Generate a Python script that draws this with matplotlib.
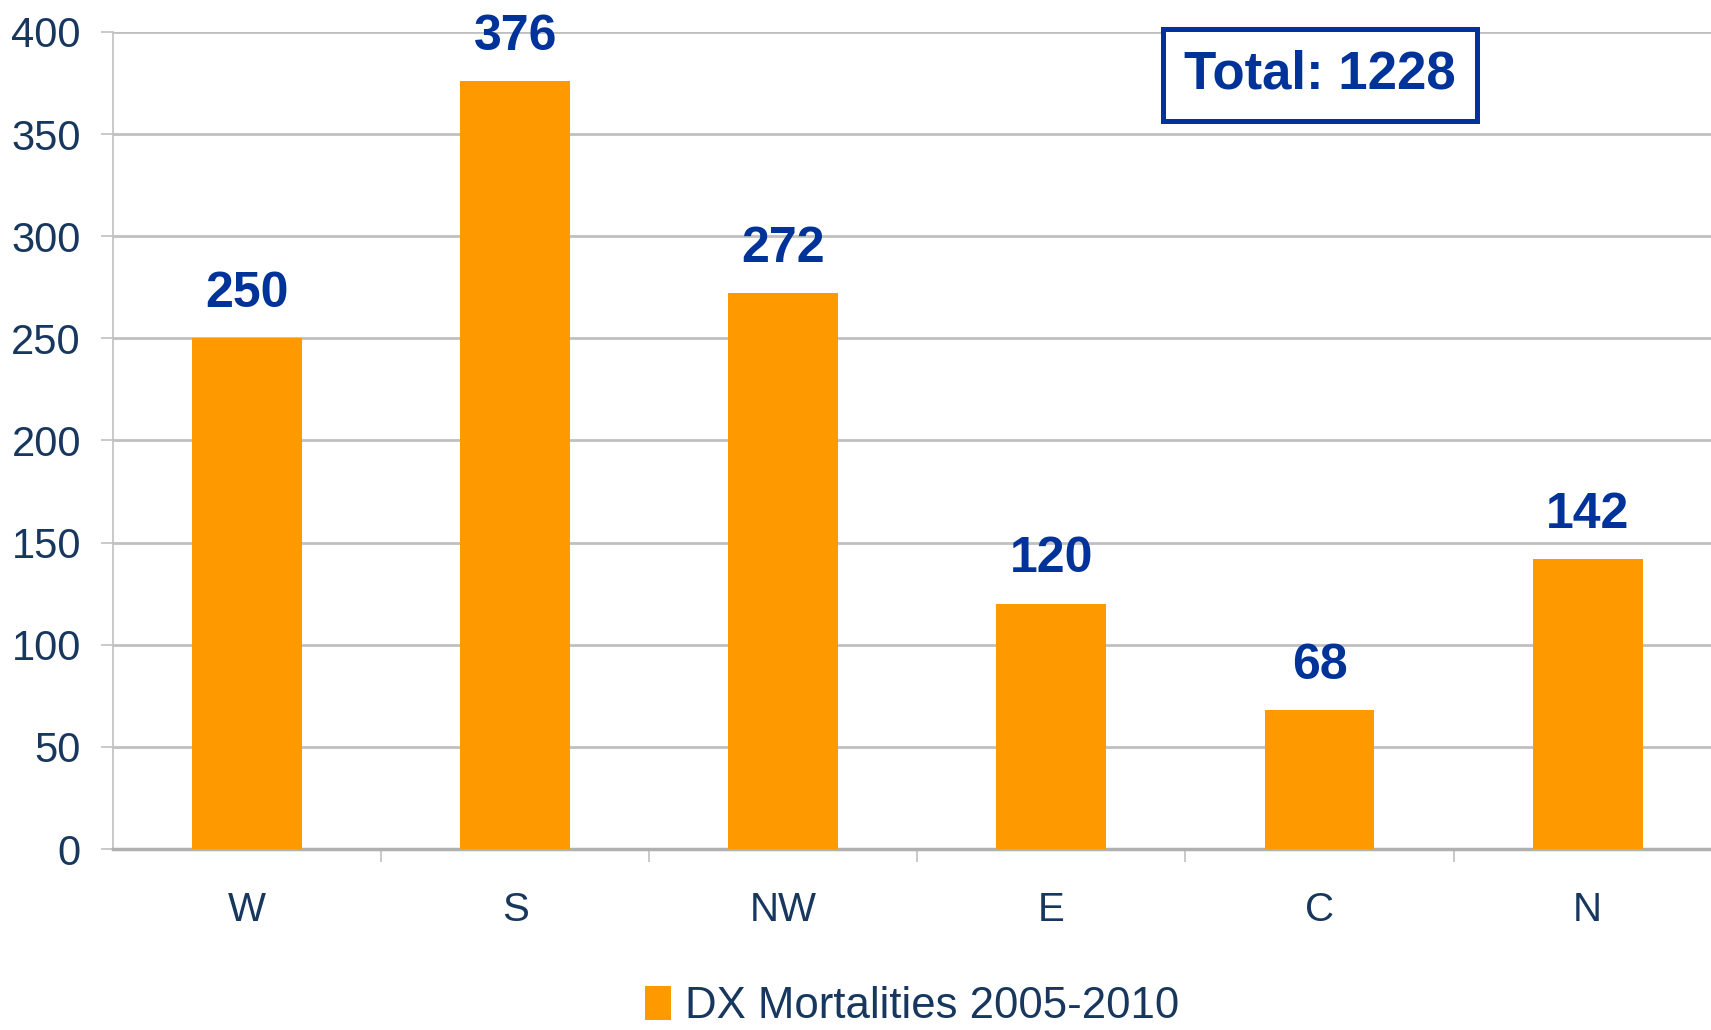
import numpy as np
import matplotlib
matplotlib.use('Agg')
import matplotlib.pyplot as plt
from matplotlib.patches import Patch

# data
regions = ['W', 'S', 'NW', 'E', 'C', 'N']
mortalities = [250, 376, 272, 120, 68, 142]
series_name = 'DX Mortalities 2005-2010'
total_text = 'Total: 1228'
y_ticks = [0, 50, 100, 150, 200, 250, 300, 350, 400]

bar_color = '#FF9900'
label_color = '#003399'
text_color = '#17375E'
grid_color = '#C0C0C0'


def main():
    plt.rcParams['font.family'] = ['Liberation Sans', 'DejaVu Sans']
    fig = plt.figure(figsize=(17.11, 10.30), dpi=100)
    ax = fig.add_axes([0.066, 0.1757, 0.934, 0.7933])

    x = np.arange(len(regions))
    ax.bar(x, mortalities, width=0.41, color=bar_color, zorder=3)

    # value labels
    for xi, v in zip(x, mortalities):
        ax.annotate(str(v), (xi, v), xytext=(0, 32), textcoords='offset points',
                    ha='center', va='center', fontsize=36, fontweight='bold',
                    color=label_color)

    ax.set_ylim(0, 400)
    ax.set_xlim(-0.5, 5.46)
    ax.set_yticks(y_ticks)
    ax.set_yticklabels([str(t) for t in y_ticks], fontsize=30, color=text_color)
    ax.yaxis.grid(True, color=grid_color, linewidth=2, zorder=0)
    ax.tick_params(axis='y', length=9, width=1.2, color=grid_color, pad=14)

    # category labels, tick marks at the boundaries
    ax.set_xticks(x)
    ax.set_xticklabels(regions, fontsize=29, color=text_color)
    ax.tick_params(axis='x', length=0, pad=30)
    ax.set_xticks(np.arange(0.5, len(regions) - 0.5, 1), minor=True)
    ax.tick_params(axis='x', which='minor', length=9, width=1.2, color=grid_color)

    for side in ['top', 'right']:
        ax.spines[side].set_visible(False)
    ax.spines['left'].set_color(grid_color)
    ax.spines['left'].set_linewidth(1.2)
    ax.spines['bottom'].set_color('#B0B0B0')
    ax.spines['bottom'].set_linewidth(2.5)

    ax.text(4.0, 379, total_text, ha='center', va='center', fontsize=38,
            fontweight='bold', color=label_color, zorder=5,
            bbox=dict(boxstyle='square,pad=0.4', facecolor='white',
                      edgecolor=label_color, linewidth=3.6))

    handle = Patch(facecolor=bar_color, edgecolor='none')
    leg = ax.legend([handle], [series_name], loc='center', bbox_to_anchor=(0.5, -0.193),
                    frameon=False, fontsize=31.5, handlelength=0.6, handleheight=0.8,
                    handletextpad=0.3, borderpad=0.1)
    for t in leg.get_texts():
        t.set_color(text_color)

    fig.savefig('out.png', dpi=100)


if __name__ == '__main__':
    main()
